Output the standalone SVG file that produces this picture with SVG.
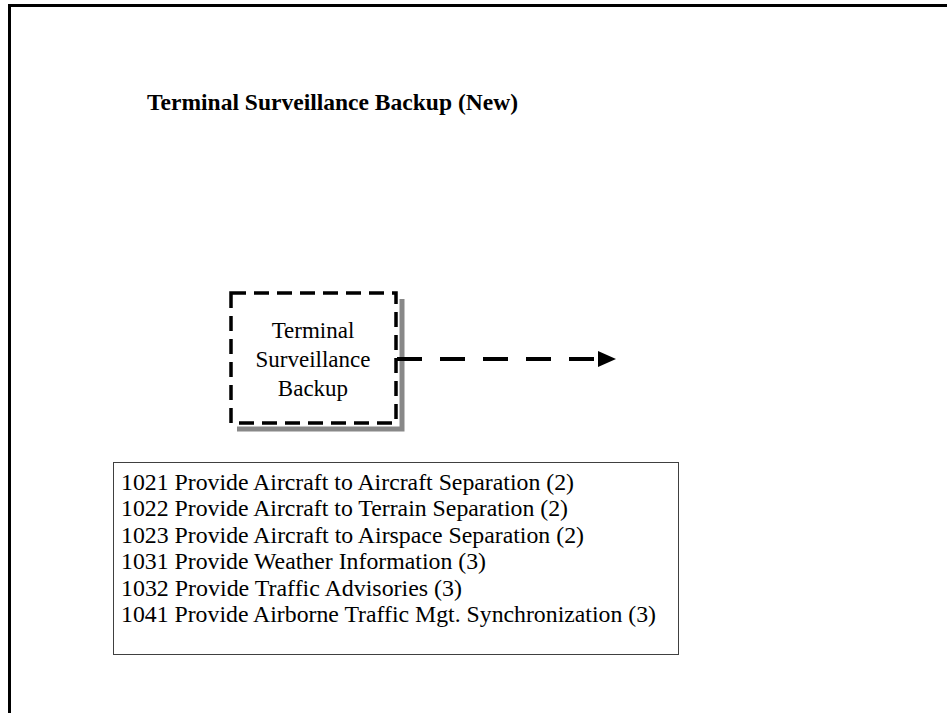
<svg xmlns="http://www.w3.org/2000/svg" width="947" height="713" viewBox="0 0 947 713">
<defs>
<style>
.t{font-family:"Liberation Serif","Times New Roman",serif;fill:#000}
.list{font-size:23px}
.node{font-size:23px;text-anchor:middle}
.title{font-size:23px;font-weight:bold}
</style>
</defs>
<rect width="947" height="713" fill="#fff"/>
<g id="frame" stroke="#000" stroke-width="3">
<line x1="8" y1="5.5" x2="947" y2="5.5"/>
<line x1="9.5" y1="4" x2="9.5" y2="713"/>
</g>
<g id="title">
<text class="t title" x="147" y="110" textLength="371" lengthAdjust="spacingAndGlyphs">Terminal Surveillance Backup (New)</text>
</g>
<g id="node-tsb">
<path d="M237,429 H402 V299" fill="none" stroke="#888" stroke-width="5"/>
<rect x="231" y="293" width="165" height="130" fill="#fff" stroke="#000" stroke-width="3.5" stroke-dasharray="15 8"/>
<text class="t node" x="313" y="338">Terminal</text>
<text class="t node" x="313" y="367">Surveillance</text>
<text class="t node" x="313" y="396">Backup</text>
</g>
<g id="connectors">
<line x1="397" y1="359" x2="598" y2="359" stroke="#000" stroke-width="4" stroke-dasharray="25 18"/>
<polygon points="598,351 616,359 598,367" fill="#000"/>
</g>
<g id="functions-list">
<rect x="113.5" y="462.5" width="565" height="192" fill="none" stroke="#404040" stroke-width="1"/>
<text class="t list" x="121" y="490" textLength="453" lengthAdjust="spacingAndGlyphs">1021 Provide Aircraft to Aircraft Separation (2)</text>
<text class="t list" x="121" y="516" textLength="447" lengthAdjust="spacingAndGlyphs">1022 Provide Aircraft to Terrain Separation (2)</text>
<text class="t list" x="121" y="543" textLength="463" lengthAdjust="spacingAndGlyphs">1023 Provide Aircraft to Airspace Separation (2)</text>
<text class="t list" x="121" y="569" textLength="365" lengthAdjust="spacingAndGlyphs">1031 Provide Weather Information (3)</text>
<text class="t list" x="121" y="596" textLength="341" lengthAdjust="spacingAndGlyphs">1032 Provide Traffic Advisories (3)</text>
<text class="t list" x="121" y="622" textLength="535" lengthAdjust="spacingAndGlyphs">1041 Provide Airborne Traffic Mgt. Synchronization (3)</text>
</g>
</svg>
